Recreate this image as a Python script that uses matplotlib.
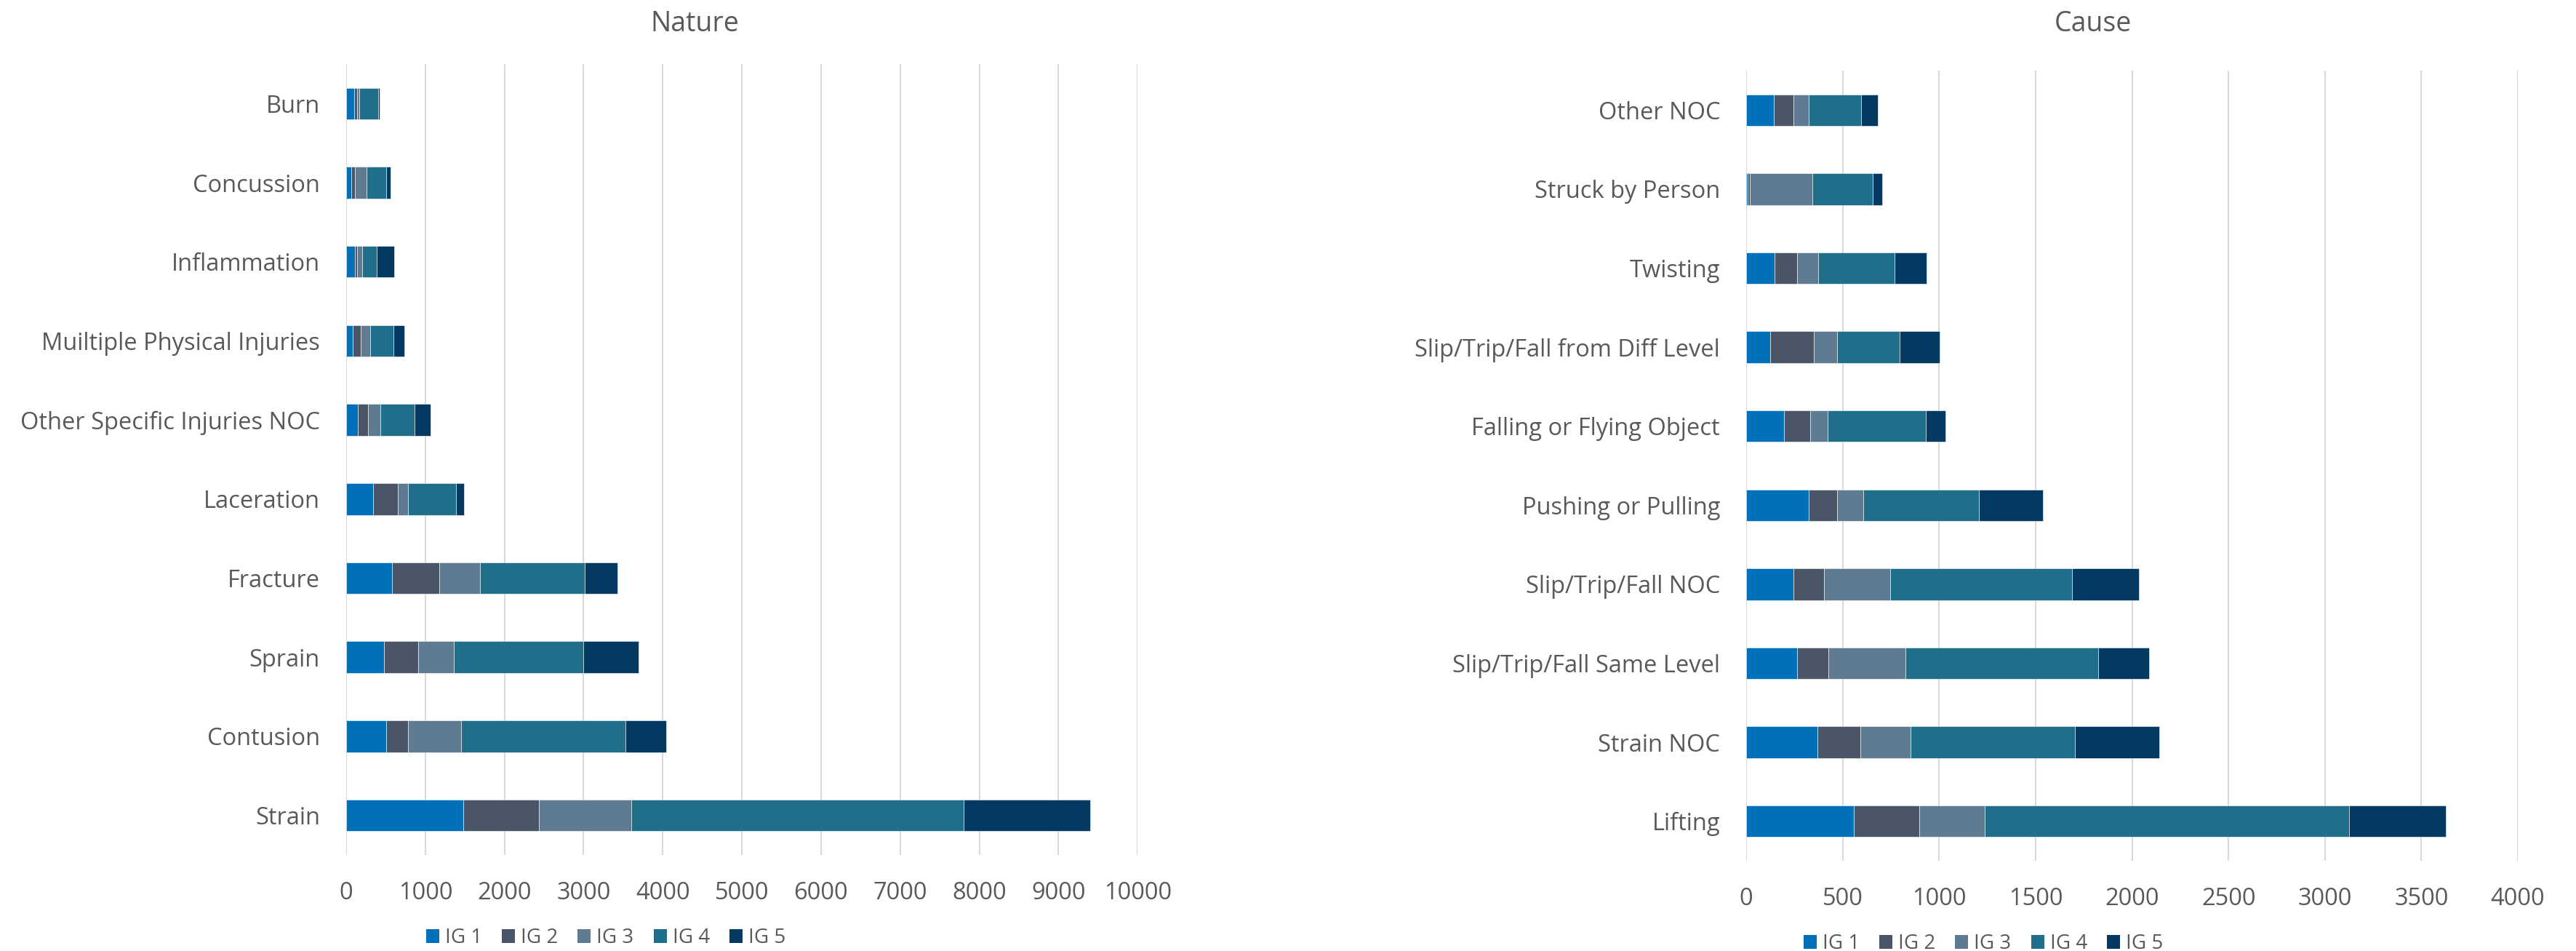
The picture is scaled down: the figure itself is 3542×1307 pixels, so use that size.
"""
Stacked bar charts of injury counts by nature and by cause, split by IG level.
"""

import matplotlib.pyplot as plt
from matplotlib.patches import Patch

plt.rcParams["font.family"] = ["Open Sans", "DejaVu Sans"]

GROUPS = ["IG 1", "IG 2", "IG 3", "IG 4", "IG 5"]
COLORS = ["#0070BA", "#4A5568", "#5E7B91", "#206F8A", "#043961"]
TEXT = "#595959"
GRID = "#D9D9D9"

# Nature of injury (bottom to top)
nature = [
    "Strain", "Contusion", "Sprain", "Fracture", "Laceration",
    "Other Specific Injuries NOC", "Muiltiple Physical Injuries",
    "Inflammation", "Concussion", "Burn",
]
nature_ig1 = [1482, 502, 478, 582, 338, 145, 80, 108, 66, 103]
nature_ig2 = [952, 277, 432, 595, 314, 132, 103, 28, 42, 33]
nature_ig3 = [1164, 670, 446, 512, 127, 150, 117, 70, 145, 33]
nature_ig4 = [4208, 2078, 1641, 1322, 605, 441, 300, 183, 249, 239]
nature_ig5 = [1597, 516, 694, 413, 103, 197, 136, 216, 56, 14]

# Cause of injury (bottom to top)
cause = [
    "Lifting", "Strain NOC", "Slip/Trip/Fall Same Level", "Slip/Trip/Fall NOC",
    "Pushing or Pulling", "Falling or Flying Object",
    "Slip/Trip/Fall from Diff Level", "Twisting", "Struck by Person", "Other NOC",
]
cause_ig1 = [556, 369, 263, 243, 325, 197, 125, 148, 8, 143]
cause_ig2 = [342, 222, 163, 161, 147, 135, 227, 115, 10, 100]
cause_ig3 = [337, 260, 401, 344, 133, 88, 120, 108, 326, 82]
cause_ig4 = [1889, 854, 996, 939, 603, 510, 322, 397, 310, 271]
cause_ig5 = [504, 438, 266, 350, 329, 101, 207, 167, 49, 86]

nature_ticks = list(range(0, 10001, 1000))
cause_ticks = list(range(0, 4001, 500))


def stacked_barh(ax, labels, series, ticks):
    y = list(range(len(labels)))
    left = [0] * len(labels)
    for vals, color in zip(series, COLORS):
        ax.barh(y, vals, left=left, height=0.4, color=color,
                edgecolor="white", linewidth=0.4, zorder=3)
        left = [a + b for a, b in zip(left, vals)]

    ax.set_ylim(-0.5, len(labels) - 0.5)
    ax.set_xlim(ticks[0], ticks[-1])
    ax.set_yticks(y)
    ax.set_yticklabels(labels)
    ax.set_xticks(ticks)
    ax.xaxis.grid(True, color=GRID, linewidth=1.5, zorder=0)
    ax.tick_params(axis="both", length=0, colors=TEXT, labelsize=23.5, pad=26)
    for side in ["top", "right", "bottom", "left"]:
        ax.spines[side].set_visible(False)


fig = plt.figure(figsize=(35.42, 13.07), dpi=100)

ax1 = fig.add_axes([0.1344, 0.1010, 0.3072, 0.8317])
stacked_barh(ax1, nature,
             [nature_ig1, nature_ig2, nature_ig3, nature_ig4, nature_ig5],
             nature_ticks)

ax2 = fig.add_axes([0.6779, 0.0949, 0.2995, 0.8309])
stacked_barh(ax2, cause,
             [cause_ig1, cause_ig2, cause_ig3, cause_ig4, cause_ig5],
             cause_ticks)

fig.text(955 / 3542, 1 - 43 / 1307, "Nature", ha="center", va="baseline",
         fontsize=27, color=TEXT)
fig.text(2878 / 3542, 1 - 43 / 1307, "Cause", ha="center", va="baseline",
         fontsize=27, color=TEXT)

handles = [Patch(facecolor=c, label=g) for c, g in zip(COLORS, GROUPS)]
for cx, cy in [(833, 1289), (2727, 1297)]:
    fig.legend(handles=handles, loc="center", ncol=5, frameon=False,
               bbox_to_anchor=(cx / 3542, 1 - cy / 1307),
               fontsize=20, labelcolor=TEXT, handlelength=0.65,
               handleheight=0.65, handletextpad=0.29, columnspacing=0.97,
               borderpad=0, borderaxespad=0)

fig.savefig("out.png", dpi=100, facecolor="white")
